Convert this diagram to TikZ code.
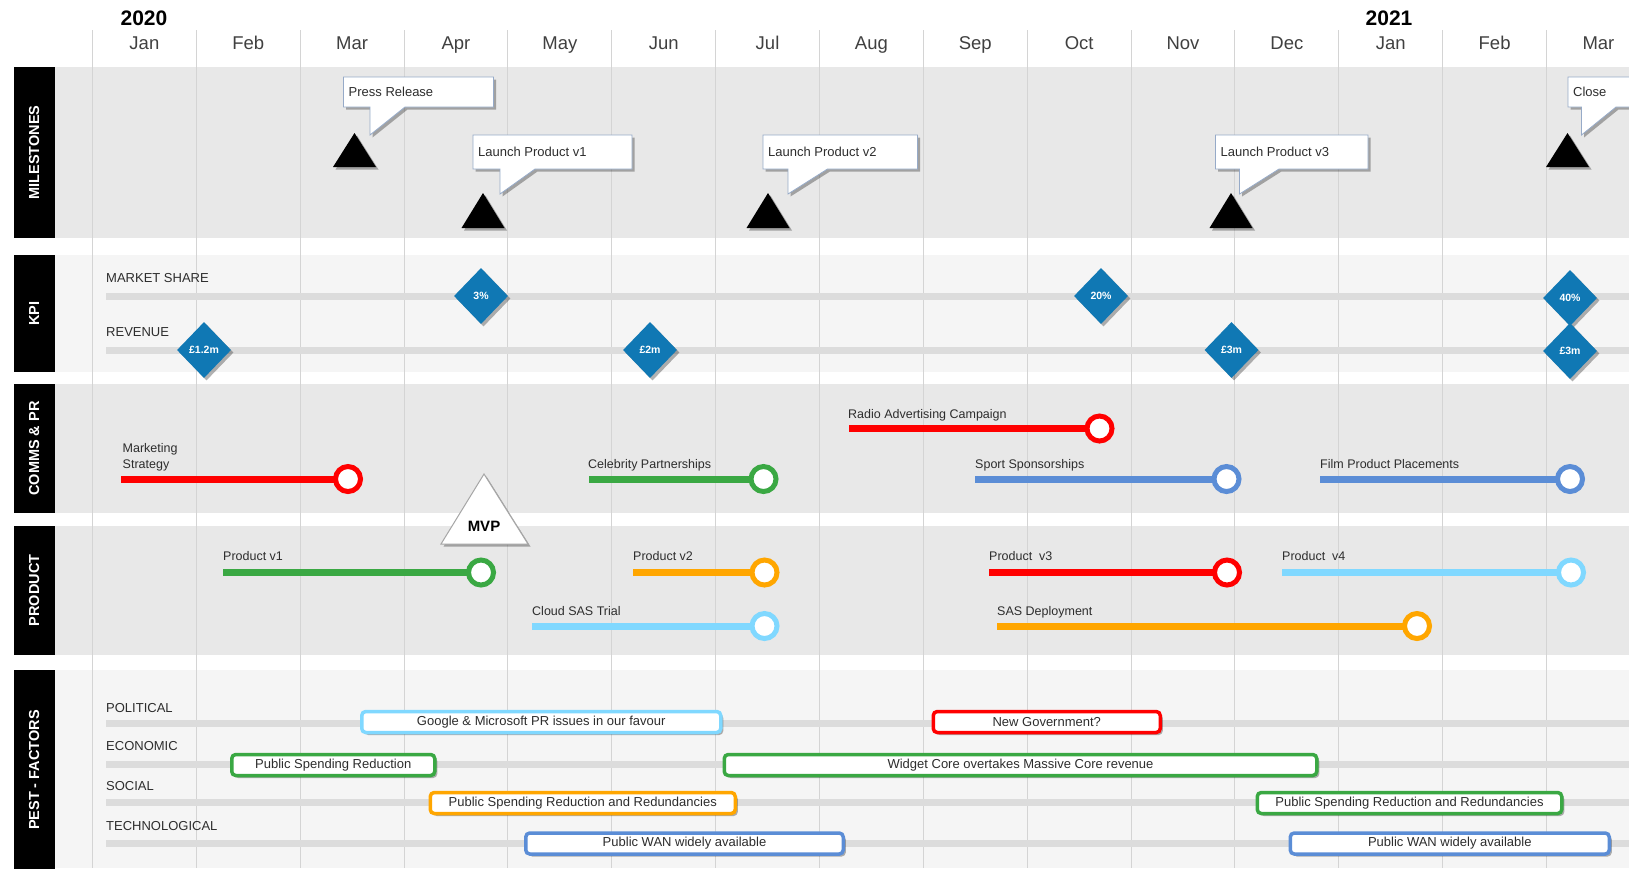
\documentclass[tikz,border=0pt]{standalone}
\usepackage{fontspec}
\setmainfont{Liberation Sans}
\usetikzlibrary{shapes.geometric,shadows}

\definecolor{bandD}{RGB}{232,232,232}
\definecolor{bandL}{RGB}{245,245,245}
\definecolor{gridc}{RGB}{212,212,212}
\definecolor{barc}{RGB}{220,220,220}
\definecolor{cred}{RGB}{255,0,0}
\definecolor{cgreen}{RGB}{58,168,67}
\definecolor{cblue}{RGB}{91,141,214}
\definecolor{corange}{RGB}{255,166,0}
\definecolor{clblue}{RGB}{128,216,255}
\definecolor{kpiblue}{RGB}{16,120,180}
\definecolor{monthc}{RGB}{64,64,64}
\definecolor{txtc}{RGB}{45,45,45}
\definecolor{calloutb}{RGB}{150,170,200}

\newcommand\fsz[2]{\fontsize{#1}{#2}\selectfont}

% callout: name, x1, y1, x2, y2, tail left x, tail right x, tip y, text
\newcommand\callout[9]{%
  \path[calloutshape] (#2,#3) -- (#4,#3) -- (#4,#5) -- (#7,#5) -- (#6,#8) -- (#6,#5) -- (#2,#5) -- cycle;
  \node[callouttext] (#1) at ({#2+5},{(#3+#5)/2}) {#9};}

% timeline bar: name, colour, x start, x end (circle), y
\newcommand\tline[5]{%
  \node[endcircle, draw=#2] (#1) at (#4,#5) {};
  \coordinate (#1s) at (#3,#5);
  \draw[line width=7, #2, shorten >=-3pt] (#1s) -- (#1.west);}

% PEST box: name, colour, x1, x2, y, text
\newcommand\pbox[6]{%
  \node[pestbox, draw=#2, minimum width={#4-#3-3.5}] (#1) at ({(#3+#4)/2},#5) {#6};}

\begin{document}
\begin{tikzpicture}[x=1pt,y=-1pt,
  shad/.style={drop shadow={shadow xshift=2.5pt, shadow yshift=-2.5pt, opacity=0.3, fill=black}},
  side/.style={fill=black, text=white, font=\bfseries\fsz{14.5}{16}, rotate=90, minimum height=41.5, inner sep=0},
  month/.style={anchor=base, text=monthc, font=\fsz{18.5}{20}, inner sep=0},
  year/.style={anchor=base, text=black, font=\bfseries\fsz{21}{23}, inner sep=0},
  calloutshape/.style={fill=white, draw=calloutb, line width=0.8, shad},
  callouttext/.style={anchor=base west, yshift=-4.7pt, inner sep=0, text=txtc, font=\fsz{13}{15}},
  mstri/.style={fill=black, shad},
  kpi/.style={diamond, fill=kpiblue, minimum width=54, minimum height=56, inner sep=0, text=white, font=\bfseries\fsz{10.5}{11}, shad},
  lbl/.style={anchor=base west, yshift=-4.5pt, inner sep=0, text=txtc, font=\fsz{12.5}{16}},
  rowlbl/.style={anchor=base west, yshift=-4.7pt, inner sep=0, text=txtc, font=\fsz{13}{15}},
  endcircle/.style={circle, fill=white, line width=5, minimum size=25, inner sep=0},
  greybar/.style={barc, line width=7},
  pestbox/.style={rounded corners=4, fill=white, line width=3.5, inner sep=0, minimum height=21, text=txtc, font=\fsz{13}{14}, shad}
]
\useasboundingbox (0,0) rectangle (1629,868);
\clip (0,0) rectangle (1629,868);
\fill[white] (0,0) rectangle (1629,868);

% bands
\fill[bandD] (55,67) rectangle (1629,238);
\fill[bandL] (55,255) rectangle (1629,372);
\fill[bandD] (55,384) rectangle (1629,513);
\fill[bandD] (55,526) rectangle (1629,655);
\fill[bandL] (55,670) rectangle (1629,868);

% grid lines
\foreach \k in {0,...,14}
  \draw[gridc, line width=1] ({92.5+103.86*\k},30) -- ({92.5+103.86*\k},868);

% months and years
\foreach \m [count=\k from 0] in {Jan,Feb,Mar,Apr,May,Jun,Jul,Aug,Sep,Oct,Nov,Dec,Jan,Feb,Mar}
  \node[month] (m\k) at ({144.4+103.86*\k},49.5) {\m};
\node[year] (y2020) at (144,25) {2020};
\node[year] (y2021) at (1389,25) {2021};

% side labels
\node[side, minimum width=171] (sMil) at (34.25,152.5) {MILESTONES};
\node[side, minimum width=117] (sKpi) at (34.25,313.5) {KPI};
\node[side, minimum width=129] (sCom) at (34.25,448.5) {COMMS \& PR};
\node[side, minimum width=129] (sPro) at (34.25,590.5) {PRODUCT};
\node[side, minimum width=200] (sPes) at (34.25,770) {PEST - FACTORS};

% milestones
\fill[mstri] (333,167) -- (354.5,133) -- (376,167) -- cycle;
\fill[mstri] (461.5,228) -- (483,193) -- (504.5,228) -- cycle;
\fill[mstri] (746.5,228) -- (768,193) -- (789.5,228) -- cycle;
\fill[mstri] (1209.5,228) -- (1231,193) -- (1252.5,228) -- cycle;
\fill[mstri] (1546,167) -- (1567.5,133) -- (1589,167) -- cycle;
\callout{cPress}{343.5}{77}{493.5}{107}{370}{405}{135}{Press Release}
\callout{cLv1}{473}{135}{632}{169}{500}{535}{194}{Launch Product v1}
\callout{cLv2}{763}{135}{917.5}{169}{788}{827.5}{194}{Launch Product v2}
\callout{cLv3}{1215.5}{135}{1368}{169}{1239.5}{1279}{194}{Launch Product v3}
\callout{cClose}{1568}{77}{1690}{107}{1581.5}{1616}{135}{Close}

% KPI
\node[rowlbl] (lMs) at (106,278) {MARKET SHARE};
\node[rowlbl] (lRev) at (106,332) {REVENUE};
\draw[greybar] (106,296) -- (1640,296);
\draw[greybar] (106,350) -- (1640,350);
\node[kpi] (k1) at (481,296) {3\%};
\node[kpi] (k2) at (1101,296) {20\%};
\node[kpi] (k3) at (1570,298) {40\%};
\node[kpi] (k4) at (204,350) {£1.2m};
\node[kpi] (k5) at (650,350) {£2m};
\node[kpi] (k6) at (1231.5,350) {£3m};
\node[kpi] (k7) at (1570,351) {£3m};

% COMMS & PR
\node[lbl, anchor=west, yshift=4.5pt, align=left] (tMkt) at (122.5,457) {Marketing\\Strategy};
\tline{bMkt}{cred}{121}{348}{479}
\node[lbl] (tRadio) at (848,414) {Radio Advertising Campaign};
\tline{bRadio}{cred}{849}{1099.5}{428.5}
\node[lbl] (tCeleb) at (588,464) {Celebrity Partnerships};
\tline{bCeleb}{cgreen}{589}{763.5}{479}
\node[lbl] (tSport) at (975,464) {Sport Sponsorships};
\tline{bSport}{cblue}{975}{1226.5}{479}
\node[lbl] (tFilm) at (1320,464) {Film Product Placements};
\tline{bFilm}{cblue}{1320}{1570}{479}

% PRODUCT
\node[lbl] (tPv1) at (223,556) {Product v1};
\tline{bPv1}{cgreen}{223}{481}{572.5}
\node[lbl] (tPv2) at (633,556) {Product v2};
\tline{bPv2}{corange}{633}{764.5}{572.5}
\node[lbl] (tCloud) at (532,611) {Cloud SAS Trial};
\tline{bCloud}{clblue}{532}{764.5}{626}
\node[lbl] (tPv3) at (989,556) {Product\ \ v3};
\tline{bPv3}{cred}{989}{1227}{572.5}
\node[lbl] (tPv4) at (1282,556) {Product\ \ v4};
\tline{bPv4}{clblue}{1282}{1571}{572.5}
\node[lbl] (tSas) at (997,611) {SAS Deployment};
\tline{bSas}{corange}{997}{1417}{626}

% MVP
\path[fill=white, draw=gray!70, line width=1, shad] (441,544) -- (484,474) -- (528,544) -- cycle;
\node[font=\bfseries\fsz{15}{16}, inner sep=0] (mvp) at (484,526) {MVP};

% PEST
\node[rowlbl] (lPol) at (106,708) {POLITICAL};
\node[rowlbl] (lEco) at (106,746) {ECONOMIC};
\node[rowlbl] (lSoc) at (106,786) {SOCIAL};
\node[rowlbl] (lTec) at (106,826) {TECHNOLOGICAL};
\draw[greybar] (106,723) -- (1640,723);
\draw[greybar] (106,764.5) -- (1640,764.5);
\draw[greybar] (106,802.5) -- (1640,802.5);
\draw[greybar] (106,843) -- (1640,843);
\pbox{pGoogle}{clblue}{360}{722.5}{722}{Google \& Microsoft PR issues in our favour}
\pbox{pGov}{cred}{931.5}{1162}{722}{New Government?}
\pbox{pPsr}{cgreen}{230}{436.5}{765}{Public Spending Reduction}
\pbox{pWidget}{cgreen}{722.5}{1318.5}{765}{Widget Core overtakes Massive Core revenue}
\pbox{pPsrr1}{corange}{428.5}{737}{803}{Public Spending Reduction and Redundancies}
\pbox{pPsrr2}{cgreen}{1255.5}{1563.5}{803}{Public Spending Reduction and Redundancies}
\pbox{pWan1}{cblue}{524}{845}{843.5}{Public WAN widely available}
\pbox{pWan2}{cblue}{1288.5}{1611}{843.5}{Public WAN widely available}
\end{tikzpicture}
\end{document}
